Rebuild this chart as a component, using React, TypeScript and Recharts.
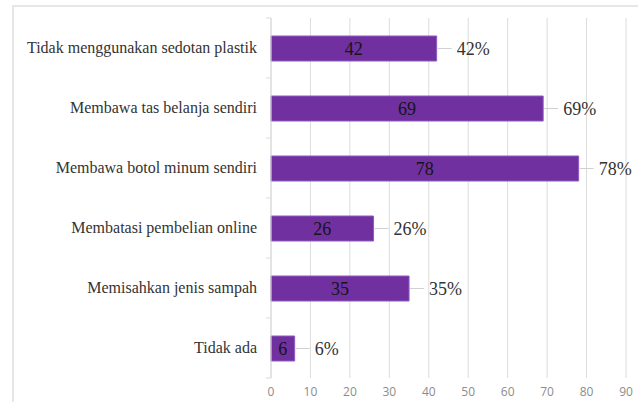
import React from 'react';
import { BarChart, Bar, XAxis, YAxis, CartesianGrid, LabelList } from 'recharts';

const categories = [
  'Tidak menggunakan sedotan plastik',
  'Membawa tas belanja sendiri',
  'Membawa botol minum sendiri',
  'Membatasi pembelian online',
  'Memisahkan jenis sampah',
  'Tidak ada',
];
const counts = [42, 69, 78, 26, 35, 6];
const percents = ['42%', '69%', '78%', '26%', '35%', '6%'];
const xTicks = [0, 10, 20, 30, 40, 50, 60, 70, 80, 90];

const data = categories.map((name, i) => ({ name, value: counts[i], pct: percents[i] }));

const PLOT_TOP = 18;
const PLOT_BOTTOM = 378;
const HALF_BAND = (PLOT_BOTTOM - PLOT_TOP) / categories.length / 2;

const serif = '"Liberation Serif", "DejaVu Serif", serif';

const CategoryTick = (props: any) => {
  const { x, y, payload, index } = props;
  return (
    <g>
      <line x1={x + 9} x2={x + 14} y1={y - HALF_BAND} y2={y - HALF_BAND} stroke="#d9d9d9" />
      {index === categories.length - 1 && (
        <line x1={x + 9} x2={x + 14} y1={y + HALF_BAND} y2={y + HALF_BAND} stroke="#d9d9d9" />
      )}
      <text x={x} y={y} dy={5} textAnchor="end" style={{ fontFamily: serif, fontSize: 16, fill: '#333333' }}>
        {payload.value}
      </text>
    </g>
  );
};

const CountLabel = (props: any) => {
  const { x, y, width, height, value } = props;
  return (
    <text
      x={x + width / 2}
      y={y + height / 2}
      dy={6}
      textAnchor="middle"
      style={{ fontFamily: serif, fontSize: 18, fill: '#151515' }}
    >
      {value}
    </text>
  );
};

const PctLabel = (props: any) => {
  const { x, y, width, height, value } = props;
  const end = x + width;
  const cy = y + height / 2;
  return (
    <g>
      <line x1={end + 1} x2={end + 15} y1={cy} y2={cy} stroke="#d0d0d0" strokeWidth={1} />
      <text x={end + 20} y={cy} dy={6} style={{ fontFamily: serif, fontSize: 18, fill: '#333333' }}>
        {value}
      </text>
    </g>
  );
};

export default function App() {
  return (
    <div style={{ position: 'absolute', left: 0, top: 0, width: 638, height: 402, background: '#fff', overflow: 'hidden' }}>
      <div
        style={{
          position: 'absolute',
          left: 12,
          top: 5,
          width: 660,
          height: 420,
          border: '2px solid #e6e6e6',
        }}
      />
      <div style={{ position: 'absolute', left: 0, top: 0 }}>
        <BarChart
          width={638}
          height={402}
          data={data}
          layout="vertical"
          margin={{ top: PLOT_TOP, right: 12, bottom: 402 - PLOT_BOTTOM - 20, left: 0 }}
        >
          <CartesianGrid horizontal={false} stroke="#dcdcdc" />
          <XAxis
            type="number"
            domain={[0, 90]}
            ticks={xTicks}
            axisLine={false}
            tickLine={false}
            height={20}
            tickMargin={3}
            tick={{ fill: '#8c8c8c', fontSize: 12, fontFamily: '"Open Sans", sans-serif' }}
          />
          <YAxis
            type="category"
            dataKey="name"
            width={271}
            axisLine={{ stroke: '#d9d9d9' }}
            tickLine={false}
            tickSize={0}
            tickMargin={14}
            tick={<CategoryTick />}
          />
          <Bar dataKey="value" fill="#7030A0" stroke="#8e5cc0" strokeWidth={1} barSize={25} isAnimationActive={false}>
            <LabelList dataKey="value" content={<CountLabel />} />
            <LabelList dataKey="pct" content={<PctLabel />} />
          </Bar>
        </BarChart>
      </div>
    </div>
  );
}
